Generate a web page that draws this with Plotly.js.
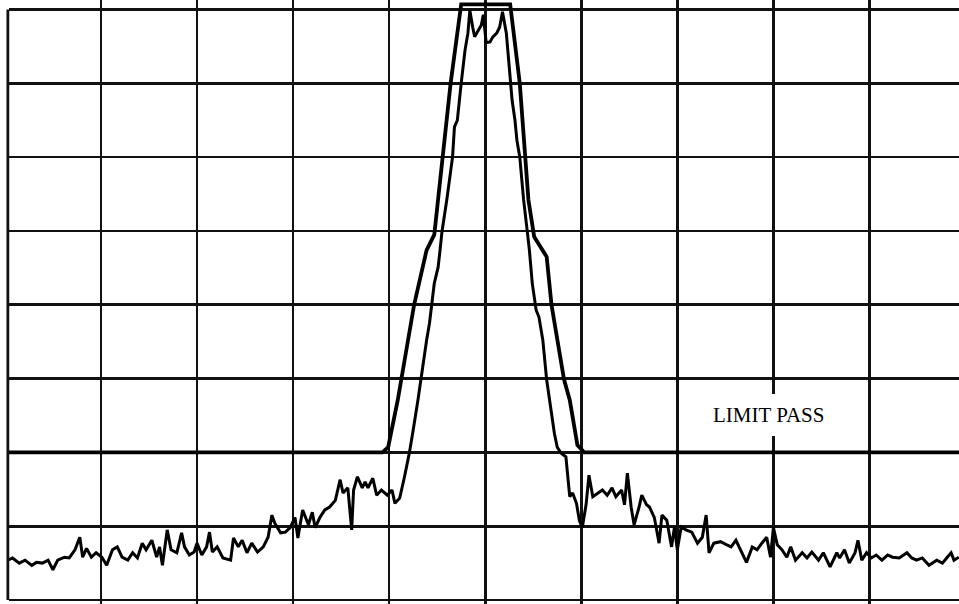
<!DOCTYPE html>
<html>
<head>
<meta charset="utf-8">
<script src="https://cdn.plot.ly/plotly-3.0.1.min.js"></script>
<style>
html, body { margin: 0; padding: 0; background: #ffffff; overflow: hidden; }
#chart { width: 959px; height: 604px; }
</style>
</head>
<body>
<div id="chart"></div>
<script>
// Measured spectrum: frequency in screen divisions (0..10), level in dB (ref 0 dB, 10 dB/div)
const traceFreq = [
  0.03,0.08,0.15,0.21,0.28,0.33,0.39,0.45,0.50,0.55,0.62,0.67,0.73,0.78,0.81,0.85,0.90,0.95,1.01,
  1.06,1.12,1.17,1.22,1.28,1.33,1.38,1.43,1.47,1.53,1.58,1.61,1.64,1.69,1.73,1.79,1.84,1.87,1.92,1.97,2.00,
  2.05,2.10,2.13,2.16,2.21,2.27,2.35,2.38,2.43,2.47,2.52,2.57,2.63,2.69,2.74,2.78,2.81,2.87,2.92,2.97,3.02,
  3.05,3.10,3.16,3.20,3.23,3.28,3.33,3.38,3.44,3.49,3.52,3.57,3.61,3.63,3.67,3.72,3.75,3.78,3.83,3.87,3.92,3.98,4.03,
  4.06,4.11,4.16,4.21,4.25,4.30,4.39,4.42,4.47,4.51,4.53,4.55,4.60,4.66,4.68,4.71,4.75,4.79,4.82,4.84,4.87,4.89,4.92,4.94,4.96,4.98,5.01,
  5.05,5.08,5.12,5.15,5.17,5.18,5.22,5.25,5.27,5.28,5.31,5.33,5.36,5.40,5.44,5.46,5.49,5.53,5.56,5.60,5.64,5.67,5.72,5.75,5.79,5.84,5.86,5.88,5.91,5.95,5.98,6.01,
  6.05,6.08,6.12,6.17,6.22,6.27,6.32,6.36,6.42,6.45,6.48,6.52,6.55,6.60,6.63,6.68,6.71,6.76,6.81,6.84,6.89,6.94,6.97,7.00,
  7.04,7.09,7.15,7.21,7.26,7.30,7.33,7.38,7.45,7.51,7.56,7.61,7.67,7.72,7.78,7.83,7.88,7.93,7.97,8.00,
  8.04,8.09,8.14,8.18,8.23,8.30,8.35,8.40,8.47,8.52,8.59,8.66,8.69,8.74,8.79,8.85,8.88,8.92,8.97,9.02,
  9.07,9.13,9.19,9.24,9.31,9.39,9.44,9.49,9.55,9.62,9.70,9.76,9.81,9.85,9.88,9.93
];
const traceDb = [
  -74.6,-74.3,-75.0,-74.6,-75.3,-74.9,-75.0,-74.6,-75.9,-74.6,-74.2,-74.3,-73.2,-71.5,-74.2,-73.0,-74.2,-73.6,-74.2,
  -75.3,-73.2,-72.8,-74.2,-74.6,-73.6,-74.3,-72.3,-73.2,-71.9,-74.2,-72.8,-75.3,-70.5,-73.2,-73.6,-70.9,-72.8,-73.9,-73.5,-72.3,
  -73.9,-72.8,-70.8,-73.5,-72.8,-74.3,-74.6,-71.6,-72.8,-71.9,-73.6,-72.3,-73.5,-72.8,-71.5,-68.5,-69.6,-70.9,-70.8,-70.2,-68.8,
  -71.6,-67.8,-69.8,-68.1,-70.2,-68.8,-67.8,-67.4,-66.5,-63.7,-65.5,-64.8,-70.5,-65.1,-63.3,-64.8,-64.0,-64.8,-63.5,-65.8,-65.1,-65.8,-65.1,
  -66.9,-66.2,-63.3,-60.1,-57.0,-52.9,-44.8,-42.5,-37.1,-34.9,-32.6,-30.1,-25.8,-20.0,-15.9,-15.0,-10.0,-5.5,-3.2,-0.1,-2.4,-3.7,-3.0,-2.5,-2.1,-0.7,-4.5,
  -4.4,-3.7,-3.2,-2.4,-1.0,-0.3,-3.2,-7.8,-10.0,-12.3,-15.0,-17.7,-20.0,-25.8,-30.3,-32.6,-37.1,-40.7,-41.7,-44.8,-50.2,-52.9,-57.4,-59.3,-60.1,-60.6,-63.3,-66.0,-65.5,-66.9,-69.2,-70.2,
  -67.1,-63.1,-66.0,-65.5,-65.1,-65.8,-64.8,-66.0,-65.1,-67.1,-62.8,-67.5,-69.8,-67.5,-65.8,-67.1,-67.4,-68.8,-72.3,-68.5,-69.2,-72.8,-70.1,-73.2,
  -70.1,-70.5,-70.8,-72.3,-71.5,-68.5,-73.6,-72.3,-72.1,-72.5,-72.8,-71.9,-73.6,-74.9,-72.8,-73.2,-72.3,-71.5,-74.2,-70.2,
  -72.5,-73.2,-74.2,-72.8,-74.6,-73.6,-74.3,-73.5,-74.6,-73.6,-75.5,-73.6,-74.3,-73.2,-75.0,-73.6,-71.9,-74.6,-73.6,-74.3,
  -73.9,-74.6,-73.9,-74.2,-74.3,-73.6,-74.3,-74.6,-74.3,-75.3,-74.6,-75.0,-74.2,-73.6,-74.6,-74.2
];

// Limit line (mask)
const limitFreq = [0.00, 3.93, 3.99, 4.09, 4.26, 4.39, 4.47, 4.51, 4.64, 4.75, 5.26, 5.36, 5.45, 5.51, 5.64, 5.69, 5.82, 5.88, 5.96, 6.03, 10.00];
const limitDb   = [-60.0, -60.0, -59.3, -52.9, -40.0, -32.6, -30.5, -25.8, -10.0, 0.7, 0.7, -10.0, -25.8, -30.8, -33.5, -40.0, -50.1, -52.9, -59.0, -60.0, -60.0];

const statusLabel = 'LIMIT PASS';

const data = [
  {
    x: limitFreq, y: limitDb, type: 'scatter', mode: 'lines',
    line: { color: '#000000', width: 3.8 }, hoverinfo: 'skip'
  },
  {
    x: traceFreq, y: traceDb, type: 'scatter', mode: 'lines',
    line: { color: '#000000', width: 3 }, hoverinfo: 'skip'
  }
];

const layout = {
  width: 959, height: 604,
  margin: { l: 9, r: 0, t: 0, b: 0, pad: 0 },
  paper_bgcolor: '#ffffff', plot_bgcolor: '#ffffff',
  showlegend: false,
  xaxis: {
    range: [0.043, 9.932], dtick: 1, tick0: 0,
    showgrid: true, gridcolor: '#111111', gridwidth: 2.7,
    zeroline: false, showticklabels: false, ticks: '', showline: false, fixedrange: true
  },
  yaxis: {
    range: [-80.54, 1.29], dtick: 10, tick0: 0,
    showgrid: true, gridcolor: '#111111', gridwidth: 2.7,
    zeroline: false, showticklabels: false, ticks: '', showline: false, fixedrange: true
  },
  shapes: [{
    type: 'line', xref: 'paper', yref: 'y', x0: -0.0012, x1: -0.0012, y0: -80, y1: 0,
    line: { color: '#111111', width: 2.8 }
  }],
  annotations: [{
    x: 7.95, y: -54.9, xref: 'x', yref: 'y', text: statusLabel, showarrow: false,
    font: { family: 'Liberation Serif, Times New Roman, serif', size: 21, color: '#000000' },
    bgcolor: '#ffffff', borderpad: 9, borderwidth: 0
  }]
};

Plotly.newPlot('chart', data, layout, { staticPlot: true, displayModeBar: false });
</script>
</body>
</html>
